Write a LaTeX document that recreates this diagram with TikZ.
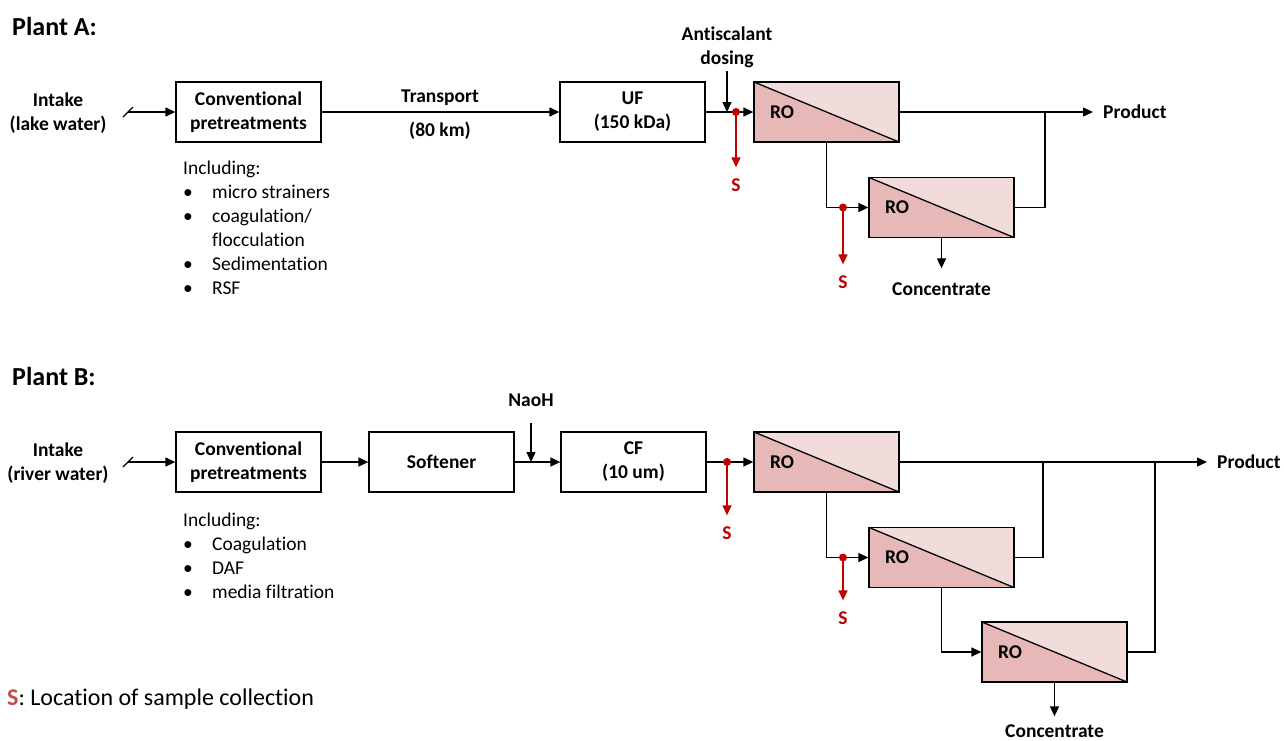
\documentclass[tikz,border=0pt]{standalone}
\usepackage{fontspec}
\setmainfont{Carlito}[Ligatures=NoCommon]
\usetikzlibrary{arrows.meta}
\definecolor{sred}{RGB}{192,0,0}
\definecolor{slegend}{RGB}{192,80,77}
\definecolor{rolight}{RGB}{242,220,219}
\definecolor{rodark}{RGB}{230,185,184}

\begin{document}
\begin{tikzpicture}[x=1pt,y=-1pt,
    every node/.style={font=\fontsize{19.5}{24}\selectfont},
    box/.style={draw, line width=1.3pt, minimum width=145pt, minimum height=60pt, inner sep=0pt, align=center, font=\fontsize{19.5}{24}\selectfont\bfseries},
    rostage/.style={draw, line width=1.3pt, fill=rolight, minimum width=145pt, minimum height=60pt, inner sep=0pt, text width=113pt, align=left, font=\fontsize{19.5}{24}\selectfont\bfseries,
        path picture={
            \fill[rodark] (path picture bounding box.north west) -- (path picture bounding box.south west) -- (path picture bounding box.south east) -- cycle;
            \draw[line width=1.3pt] (path picture bounding box.north west) -- (path picture bounding box.south east);}},
    pipe/.style={line width=1.3pt},
    flow/.style={line width=1.3pt, -{Triangle[length=10pt,width=9pt]}},
    sampleflow/.style={line width=1.3pt, sred, -{Triangle[length=10pt,width=9pt]}},
    flowtext/.style={font=\fontsize{19.5}{24}\selectfont\bfseries, align=center},
    stext/.style={font=\fontsize{19.5}{24}\selectfont\bfseries, text=sred, inner ysep=11pt},
    plant/.style={anchor=west, inner sep=0pt, font=\fontsize{26}{30}\selectfont\bfseries},
]
    \useasboundingbox (0,0) rectangle (1284,740);

    % Plant A
    \node[plant] (plantA) at (12,26) {Plant A:};

    \node[flowtext] (intakeA) at (58,113) {Intake\\(lake water)};
    \coordinate (inA) at (128,112);
    \draw[pipe] (123,117) -- (133,107);

    \node[box] (convA) at (248.5,112) {Conventional\\pretreatments};
    \node[anchor=north west, inner sep=0pt] (incA) at (183,157) {%
        \begin{tabular}{@{}p{29pt}@{}l@{}}
        \multicolumn{2}{@{}l@{}}{Including:}\\
        \textbullet & micro strainers\\
        \textbullet & coagulation/\\
                    & flocculation\\
        \textbullet & Sedimentation\\
        \textbullet & RSF
        \end{tabular}};

    \node[box] (ufA) at (632.5,112) {UF\\(150 kDa)};
    \node[flowtext] (transA) at (440,98) {Transport};
    \node[flowtext] (kmA) at (440,131) {(80 km)};

    \node[flowtext] (dosingA) at (727,47) {Antiscalant\\dosing};

    \node[rostage] (ro1A) at (826.5,112) {RO};
    \node[rostage] (ro2A) at (941.5,207.5) {RO};

    \node[flowtext, anchor=west, inner xsep=10pt] (productA) at (1093,112) {Product};
    \node[flowtext, inner ysep=14pt] (concA) at (941.5,289) {Concentrate};

    \coordinate (spA1) at (736,112);
    \coordinate (spA2) at (843,207.5);
    \node[stext] (sA1) at (736,185) {S};
    \node[stext] (sA2) at (843,282) {S};
    \coordinate (jA) at (1045,112);

    \draw[flow] (inA) -- (convA.west);
    \draw[flow] (convA.east) -- (ufA.west);
    \draw[flow] (ufA.east) -- (ro1A.west);
    \draw[flow] (dosingA.south) -- (dosingA.south |- ufA.east);
    \draw[flow] (ro1A.east) -- (productA.west);
    \draw[flow] (ro1A.south) |- (ro2A.west);
    \draw[pipe] (ro2A.east) -| (jA);
    \draw[flow] (ro2A.south) -- (concA.north);

    % Plant B
    \node[plant] (plantB) at (12,376) {Plant B:};

    \node[flowtext] (intakeB) at (58,463) {Intake\\(river water)};
    \coordinate (inB) at (128,462);
    \draw[pipe] (123,467) -- (133,457);

    \node[box] (convB) at (248.5,462) {Conventional\\pretreatments};
    \node[anchor=north west, inner sep=0pt] (incB) at (183,509) {%
        \begin{tabular}{@{}p{29pt}@{}l@{}}
        \multicolumn{2}{@{}l@{}}{Including:}\\
        \textbullet & Coagulation\\
        \textbullet & DAF\\
        \textbullet & media filtration
        \end{tabular}};

    \node[box] (softB) at (441.5,462) {Softener};
    \node[box] (cfB) at (633.5,462) {CF\\(10 um)};
    \node[flowtext] (naohB) at (531,400) {NaoH};

    \node[rostage] (ro1B) at (826.5,462) {RO};
    \node[rostage] (ro2B) at (941.5,557.5) {RO};
    \node[rostage] (ro3B) at (1054.5,652) {RO};

    \node[flowtext, anchor=west, inner xsep=10pt] (productB) at (1207,462) {Product};
    \node[flowtext, inner ysep=8pt] (concB) at (1054.5,731) {Concentrate};

    \coordinate (spB1) at (727,462);
    \coordinate (spB2) at (843,557.5);
    \node[stext] (sB1) at (727,533) {S};
    \node[stext] (sB2) at (843,618) {S};
    \coordinate (jB1) at (1043,462);
    \coordinate (jB2) at (1155,462);

    \draw[flow] (inB) -- (convB.west);
    \draw[flow] (convB.east) -- (softB.west);
    \draw[flow] (softB.east) -- (cfB.west);
    \draw[flow, shorten <=13pt] (naohB.south) -- (naohB.south |- softB.east);
    \draw[flow] (cfB.east) -- (ro1B.west);
    \draw[flow] (ro1B.east) -- (productB.west);
    \draw[flow] (ro1B.south) |- (ro2B.west);
    \draw[pipe] (ro2B.east) -| (jB1);
    \draw[flow] (ro2B.south) |- (ro3B.west);
    \draw[pipe] (ro3B.east) -| (jB2);
    \draw[flow] (ro3B.south) -- (concB.north);

    % Sample points
    \foreach \p/\s in {spA1/sA1, spA2/sA2, spB1/sB1, spB2/sB2}
    {
        \fill[sred] (\p) circle (4);
        \draw[sampleflow] (\p) -- (\s.north);
    }

    % Legend
    \node[anchor=west, inner sep=0pt, font=\fontsize{24}{28}\selectfont] (legend) at (7,699) {\textcolor{slegend}{\textbf{S}}: Location of sample collection};
\end{tikzpicture}
\end{document}
